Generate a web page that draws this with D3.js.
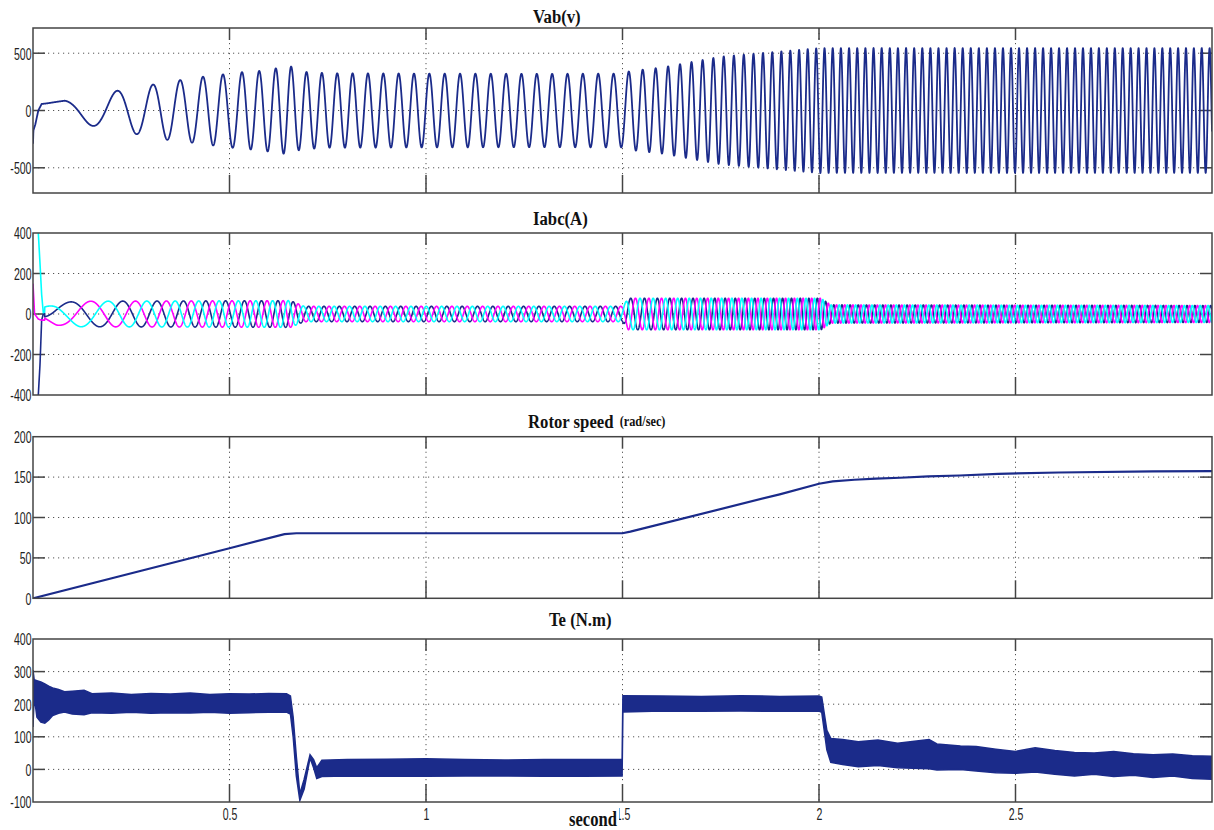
<!DOCTYPE html>
<html>
<head>
<meta charset="utf-8">
<style>
  body { margin: 0; background: #fff; }
  svg { display: block; }
  .lbl { font-family: "Liberation Sans", Arial, sans-serif; font-size: 16px; fill: #222; }
  .title { font-family: "Liberation Serif", "Times New Roman", serif; font-weight: bold; fill: #111; }
</style>
</head>
<body>
<script src="https://d3js.org/d3.v7.min.js"></script>
<script>

var width = 1214, height = 830;
var plotLeft = 33, plotRight = 1212;
var navy = "#1b2b8a";

// time axis (seconds)
var xTicks = [0.5, 1, 1.5, 2, 2.5];

// ---- Vab(v) ----
// first transient, read point by point
var vabStartT = [0, 0.001, 0.006, 0.0135, 0.022, 0.035, 0.05, 0.065, 0.08];
var vabStartV = [-290, -174, -120, 0, 57, 62, 70, 78, 85];
// supply frequency (Hz) read from the peak spacing
var freqT  = [0, 0.11, 0.18, 0.26, 0.34, 0.40, 0.46, 0.51, 0.55, 0.60, 0.64, 0.66, 1.50, 1.55, 1.75, 2.00, 2.02, 3.00];
var freqHz = [3, 6.2, 7.8, 10.9, 14.5, 17.0, 20.0, 20.4, 23.0, 23.5, 26.0, 25.6, 25.6, 29.5, 38.0, 47.0, 48.0, 50.0];
// envelope of Vab
var vabAmpT = [0.07, 0.10, 0.153, 0.214, 0.26, 0.305, 0.34, 0.374, 0.433, 0.483, 0.532, 0.575, 0.618, 0.656, 0.68, 0.75, 1.0, 1.3, 1.5, 1.52, 1.6, 1.75, 1.9, 2.0, 2.5, 3.0];
var vabAmp  = [85, 100, 135, 172, 205, 226, 255, 265, 295, 315, 335, 345, 368, 385, 340, 325, 322, 320, 322, 345, 375, 470, 515, 545, 545, 545];

// ---- Iabc(A) ----
var iStartT = [0, 0.004, 0.0135, 0.0178, 0.022, 0.0262, 0.03];
var iaStart = [-420, -420, -400, -250, -30, 0, 5];      // navy
var ibStart = [150, 0, -25, -28, -30, -30, -30];         // magenta
var icStart = [430, 440, 400, 250, 96, 6, 10];           // cyan
var iAmpT = [0.03, 0.06, 0.12, 0.655, 0.69, 1.5, 1.515, 2.005, 2.03, 3.0];
var iAmp  = [35, 55, 63, 66, 38, 38, 78, 78, 45, 42];
var iLag = 0.85;

// ---- Rotor speed (rad/sec) ----
var speedT = [0, 0.5, 0.64, 0.67, 1.5, 1.52, 1.9, 2.0, 2.035, 2.09, 2.145, 2.206, 2.278, 2.358, 2.456, 2.61, 2.85, 3.0];
var speedV = [0, 62, 79.5, 80.5, 80.5, 82.5, 128.7, 141.8, 144.7, 146.7, 148, 149.2, 150.8, 152, 154.1, 155.7, 157, 157.4];

// ---- Te (N.m): upper and lower edge of the ripple band ----
var teT  = [0, 0.003, 0.01, 0.02, 0.03, 0.04, 0.05, 0.065, 0.08, 0.1, 0.13, 0.15, 0.2, 0.25, 0.3, 0.35, 0.4, 0.45, 0.5, 0.55, 0.6, 0.645, 0.655, 0.662, 0.67, 0.679, 0.69, 0.705, 0.714, 0.722, 0.735, 0.8, 0.9, 1.0, 1.1, 1.2, 1.3, 1.4, 1.499, 1.501, 1.6, 1.7, 1.8, 1.9, 2.0, 2.007, 2.02, 2.03, 2.06, 2.1, 2.15, 2.2, 2.28, 2.3, 2.36, 2.4, 2.45, 2.5, 2.55, 2.6, 2.65, 2.7, 2.75, 2.8, 2.85, 2.9, 2.95, 3.0];
var teHi = [305, 275, 272, 268, 262, 255, 250, 245, 238, 240, 243, 232, 234, 230, 233, 231, 234, 230, 232, 231, 233, 232, 225, 160, 40, -75, -30, 45, 30, 5, 28, 30, 31, 33, 30, 29, 30, 30, 30, 226, 225, 224, 226, 224, 225, 222, 120, 95, 92, 85, 90, 80, 92, 78, 72, 70, 62, 55, 66, 58, 52, 50, 55, 48, 45, 47, 42, 40];
var teLo = [130, 225, 160, 145, 142, 152, 165, 172, 176, 170, 168, 174, 172, 175, 172, 174, 173, 175, 172, 174, 175, 176, 170, 100, -20, -95, -60, 35, 5, -28, -22, -20, -21, -21, -20, -20, -21, -21, -20, 176, 179, 178, 179, 178, 179, 175, 60, 22, 15, 8, 12, 5, 2, -2, 0, -5, -10, -12, -8, -15, -20, -15, -22, -18, -25, -20, -28, -30];

var svg = d3.select("body").append("svg")
    .attr("width", width)
    .attr("height", height);

var x = d3.scaleLinear().domain([0, 3]).range([plotLeft, plotRight]);

// sample the signals
var dt = 0.0004;
var N = Math.round(3 / dt);
var ts = d3.range(N + 1).map(function(i) { return i * dt; });
var fAt = d3.scaleLinear().domain(freqT).range(freqHz).clamp(true);
var cyc = [0];
for (var i = 1; i <= N; i++) {
  cyc.push(cyc[i - 1] + dt * (fAt(ts[i - 1]) + fAt(ts[i])) / 2);
}
var cycRef = cyc[Math.round(0.214 / dt)];
var phase = cyc.map(function(c) { return 2 * Math.PI * (c - cycRef); });

var vabStart = d3.scaleLinear().domain(vabStartT).range(vabStartV);
var vabEnv = d3.scaleLinear().domain(vabAmpT).range(vabAmp).clamp(true);
var vabData = ts.map(function(t, k) {
  var v = t < 0.08 ? vabStart(t) : vabEnv(t) * Math.cos(phase[k]);
  return [t, v];
});

var iEnv = d3.scaleLinear().domain(iAmpT).range(iAmp).clamp(true);
function current(startVals, shift) {
  var s = d3.scaleLinear().domain(iStartT).range(startVals);
  return ts.map(function(t, k) {
    var v = t < 0.03 ? s(t) : iEnv(t) * Math.cos(phase[k] - iLag + shift);
    return [t, v];
  });
}
var iaData = current(iaStart, 0);
var ibData = current(ibStart, -2 * Math.PI / 3);
var icData = current(icStart, 2 * Math.PI / 3);

var speedData = speedT.map(function(t, k) { return [t, speedV[k]]; });
var teData = teT.map(function(t, k) { return { t: t, hi: teHi[k], lo: teLo[k] }; });

// panels
var panels = [
  { id: "vab", top: 28, bottom: 193, domain: [-720, 720], ticks: [-500, 0, 500] },
  { id: "iabc", top: 233, bottom: 395, domain: [-400, 400], ticks: [-400, -200, 0, 200, 400] },
  { id: "speed", top: 436.7, bottom: 598.3, domain: [0, 200], ticks: [0, 50, 100, 150, 200] },
  { id: "te", top: 639, bottom: 802, domain: [-100, 400], ticks: [-100, 0, 100, 200, 300, 400] }
];

panels.forEach(function(p) {
  var y = d3.scaleLinear().domain(p.domain).range([p.bottom, p.top]);
  p.y = y;
  var g = svg.append("g").attr("class", "panel-" + p.id);

  g.append("clipPath").attr("id", "clip-" + p.id)
    .append("rect")
    .attr("x", plotLeft).attr("y", p.top)
    .attr("width", plotRight - plotLeft).attr("height", p.bottom - p.top);

  var inner = p.ticks.filter(function(v) { return y(v) > p.top + 1 && y(v) < p.bottom - 1; });

  // dotted grid
  g.selectAll(".hgrid").data(inner).enter().append("line")
    .attr("x1", plotLeft).attr("x2", plotRight)
    .attr("y1", function(d) { return y(d); }).attr("y2", function(d) { return y(d); })
    .attr("stroke", "#555").attr("stroke-width", 1).attr("stroke-dasharray", "1.2,3.8");
  g.selectAll(".vgrid").data(xTicks).enter().append("line")
    .attr("x1", function(d) { return x(d); }).attr("x2", function(d) { return x(d); })
    .attr("y1", p.top).attr("y2", p.bottom)
    .attr("stroke", "#555").attr("stroke-width", 1).attr("stroke-dasharray", "1.2,3.8");

  // inward ticks
  g.selectAll(".ytl").data(inner).enter().append("line")
    .attr("x1", plotLeft).attr("x2", plotLeft + 12)
    .attr("y1", function(d) { return y(d); }).attr("y2", function(d) { return y(d); })
    .attr("stroke", "#444").attr("stroke-width", 1.5);
  g.selectAll(".ytr").data(inner).enter().append("line")
    .attr("x1", plotRight - 12).attr("x2", plotRight)
    .attr("y1", function(d) { return y(d); }).attr("y2", function(d) { return y(d); })
    .attr("stroke", "#444").attr("stroke-width", 1.5);
  g.selectAll(".xtt").data(xTicks).enter().append("line")
    .attr("x1", function(d) { return x(d); }).attr("x2", function(d) { return x(d); })
    .attr("y1", p.top).attr("y2", p.top + 12)
    .attr("stroke", "#444").attr("stroke-width", 1.5);
  g.selectAll(".xtb").data(xTicks).enter().append("line")
    .attr("x1", function(d) { return x(d); }).attr("x2", function(d) { return x(d); })
    .attr("y1", p.bottom - 18).attr("y2", p.bottom)
    .attr("stroke", "#444").attr("stroke-width", 1.5);

  // y axis labels
  var ax = g.append("g")
    .attr("transform", "translate(" + plotLeft + ",0)")
    .call(d3.axisLeft(y).tickValues(p.ticks).tickSize(0).tickFormat(function(d) { return String(d); }));
  ax.select(".domain").remove();
  ax.attr("font-size", null).attr("font-family", null);
  ax.selectAll(".tick text")
    .attr("class", "lbl")
    .attr("x", null).attr("dy", null)
    .attr("transform", "translate(-1.5,5.8) scale(0.66,1)");

  p.g = g;
  p.plot = g.append("g").attr("clip-path", "url(#clip-" + p.id + ")");
});

// Vab line
var p0 = panels[0];
p0.plot.append("path")
  .datum(vabData)
  .attr("fill", "none").attr("stroke", navy).attr("stroke-width", 1.8)
  .attr("stroke-linejoin", "round")
  .attr("d", d3.line().x(function(d) { return x(d[0]); }).y(function(d) { return p0.y(d[1]); }));

// Iabc lines
var p1 = panels[1];
var iLine = d3.line().x(function(d) { return x(d[0]); }).y(function(d) { return p1.y(d[1]); });
[[iaData, navy], [ibData, "#ff00ff"], [icData, "#00ffff"]].forEach(function(s) {
  p1.plot.append("path").datum(s[0])
    .attr("fill", "none").attr("stroke", s[1]).attr("stroke-width", 1.6)
    .attr("stroke-linejoin", "round").attr("d", iLine);
});

// speed
var p2 = panels[2];
p2.plot.append("path").datum(speedData)
  .attr("fill", "none").attr("stroke", navy).attr("stroke-width", 2.2)
  .attr("d", d3.line().x(function(d) { return x(d[0]); }).y(function(d) { return p2.y(d[1]); }));

// Te band
var p3 = panels[3];
p3.plot.append("path").datum(teData)
  .attr("fill", navy).attr("stroke", navy).attr("stroke-width", 1.5)
  .attr("d", d3.area().x(function(d) { return x(d.t); })
    .y0(function(d) { return p3.y(d.lo); }).y1(function(d) { return p3.y(d.hi); }));

// boxes on top
panels.forEach(function(p) {
  p.g.append("rect")
    .attr("x", plotLeft).attr("y", p.top)
    .attr("width", plotRight - plotLeft).attr("height", p.bottom - p.top)
    .attr("fill", "none").attr("stroke", "#444").attr("stroke-width", 1.5);
});

// x tick labels on the bottom panel
var xa = svg.append("g")
  .attr("transform", "translate(0," + p3.bottom + ")")
  .call(d3.axisBottom(x).tickValues(xTicks).tickSize(0).tickFormat(function(d) { return String(d); }));
xa.select(".domain").remove();
xa.attr("font-size", null).attr("font-family", null);
xa.selectAll(".tick text")
  .attr("class", "lbl").attr("y", null).attr("dy", null)
  .attr("transform", "translate(0,18) scale(0.66,1)");

// titles
function title(txt, x0, y0, size) {
  return svg.append("text").attr("class", "title")
    .attr("transform", "translate(" + x0 + "," + y0 + ") scale(0.88,1)")
    .attr("font-size", size).text(txt);
}
title("Vab(v)", 533, 23, 19);
title("Iabc(A)", 533, 225, 19);
var rs = title("Rotor speed", 528, 428, 19);
rs.append("tspan").attr("font-size", 14).attr("dx", 7).attr("dy", -2).text("(rad/sec)");
title("Te (N.m)", 549, 626, 19);

svg.append("rect").attr("x", 568).attr("y", 806).attr("width", 51).attr("height", 24).attr("fill", "#fff");
svg.append("text").attr("class", "title")
  .attr("transform", "translate(569,826) scale(0.79,1)")
  .attr("font-size", 21).text("second");

</script>
</body>
</html>
